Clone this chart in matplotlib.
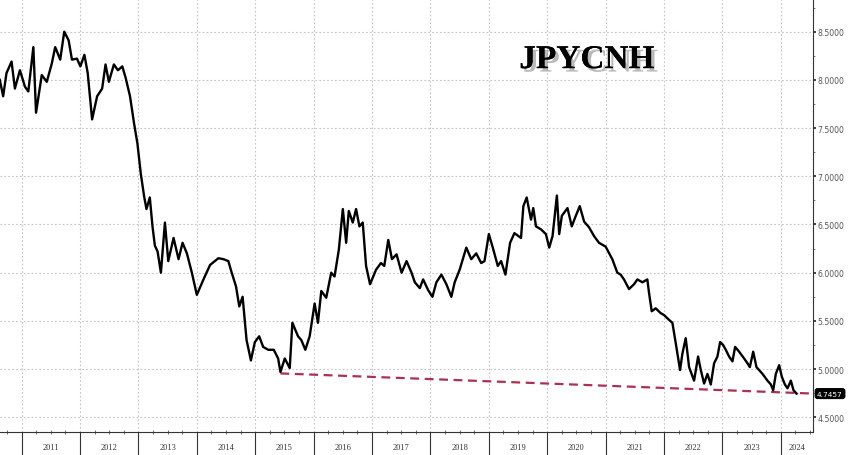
import matplotlib
matplotlib.use("Agg")
import matplotlib.pyplot as plt
import matplotlib.patheffects as pe
from matplotlib.transforms import blended_transform_factory
from matplotlib.ticker import FixedLocator, MultipleLocator, FormatStrFormatter
import numpy as np

# ---- data (decimal year, JPYCNH value) ----
dates = [
    2010.626, 2010.684, 2010.741, 2010.828, 2010.885, 2010.971, 2011.057, 2011.115,
    2011.201, 2011.247, 2011.345, 2011.431, 2011.517, 2011.575, 2011.661, 2011.730,
    2011.805, 2011.862, 2011.948, 2012.006, 2012.075, 2012.132, 2012.207, 2012.293,
    2012.379, 2012.437, 2012.494, 2012.580, 2012.649, 2012.724, 2012.782, 2012.856,
    2012.925, 2012.983, 2013.040, 2013.098, 2013.138, 2013.195, 2013.241, 2013.282,
    2013.328, 2013.385, 2013.454, 2013.511, 2013.602, 2013.687, 2013.756, 2013.830,
    2013.915, 2014.000, 2014.114, 2014.227, 2014.369, 2014.455, 2014.540, 2014.597,
    2014.670, 2014.727, 2014.784, 2014.852, 2014.926, 2014.994, 2015.068, 2015.136,
    2015.222, 2015.318, 2015.392, 2015.432, 2015.506, 2015.591, 2015.636, 2015.733,
    2015.790, 2015.858, 2015.932, 2016.017, 2016.074, 2016.131, 2016.216, 2016.301,
    2016.358, 2016.432, 2016.500, 2016.557, 2016.602, 2016.670, 2016.727, 2016.784,
    2016.841, 2016.898, 2016.966, 2017.068, 2017.153, 2017.210, 2017.278, 2017.341,
    2017.420, 2017.506, 2017.591, 2017.676, 2017.733, 2017.818, 2017.875, 2017.960,
    2018.034, 2018.102, 2018.188, 2018.273, 2018.358, 2018.415, 2018.500, 2018.614,
    2018.699, 2018.784, 2018.869, 2018.926, 2019.000, 2019.068, 2019.153, 2019.210,
    2019.284, 2019.364, 2019.438, 2019.551, 2019.591, 2019.648, 2019.722, 2019.761,
    2019.807, 2019.892, 2019.977, 2020.034, 2020.091, 2020.165, 2020.205, 2020.250,
    2020.347, 2020.420, 2020.489, 2020.557, 2020.631, 2020.716, 2020.801, 2020.886,
    2021.000, 2021.114, 2021.200, 2021.257, 2021.314, 2021.400, 2021.486, 2021.543,
    2021.629, 2021.714, 2021.743, 2021.789, 2021.857, 2021.943, 2022.000, 2022.086,
    2022.143, 2022.200, 2022.274, 2022.314, 2022.371, 2022.429, 2022.514, 2022.583,
    2022.629, 2022.686, 2022.743, 2022.800, 2022.857, 2022.914, 2022.960, 2023.011,
    2023.057, 2023.114, 2023.171, 2023.217, 2023.286, 2023.371, 2023.429, 2023.469,
    2023.526, 2023.583, 2023.686, 2023.771, 2023.829, 2023.869, 2023.914, 2023.971,
    2024.017, 2024.069, 2024.114, 2024.171, 2024.217, 2024.269,
]
values = [
    8.00, 7.83, 8.07, 8.19, 7.91, 8.10, 7.93, 7.88,
    8.34, 7.66, 8.05, 7.98, 8.17, 8.34, 8.21, 8.50,
    8.41, 8.21, 8.22, 8.14, 8.26, 8.07, 7.59, 7.83,
    7.91, 8.16, 7.98, 8.16, 8.10, 8.14, 8.02, 7.83,
    7.55, 7.34, 7.03, 6.79, 6.66, 6.78, 6.48, 6.28,
    6.22, 6.00, 6.52, 6.12, 6.36, 6.14, 6.31, 6.20,
    6.00, 5.77, 5.93, 6.08, 6.15, 6.14, 6.12, 6.00,
    5.86, 5.65, 5.75, 5.30, 5.09, 5.28, 5.34, 5.23,
    5.20, 5.20, 5.11, 4.97, 5.11, 5.01, 5.48, 5.34,
    5.30, 5.20, 5.34, 5.68, 5.48, 5.81, 5.74, 6.00,
    5.96, 6.24, 6.66, 6.31, 6.64, 6.52, 6.66, 6.48,
    6.52, 6.07, 5.88, 6.03, 6.10, 6.07, 6.34, 6.14,
    6.19, 6.00, 6.12, 6.00, 5.90, 5.84, 5.93, 5.82,
    5.75, 5.90, 5.98, 5.88, 5.75, 5.90, 6.03, 6.26,
    6.14, 6.20, 6.10, 6.12, 6.40, 6.26, 6.07, 6.12,
    5.98, 6.31, 6.41, 6.36, 6.69, 6.78, 6.55, 6.67,
    6.48, 6.45, 6.40, 6.26, 6.38, 6.80, 6.40, 6.59,
    6.67, 6.48, 6.59, 6.69, 6.53, 6.47, 6.38, 6.31,
    6.27, 6.14, 6.00, 5.98, 5.93, 5.83, 5.88, 5.93,
    5.90, 5.93, 5.79, 5.60, 5.63, 5.58, 5.56, 5.51,
    5.48, 5.27, 4.99, 5.16, 5.32, 5.02, 4.88, 5.13,
    4.99, 4.85, 4.95, 4.84, 5.06, 5.13, 5.28, 5.25,
    5.20, 5.13, 5.08, 5.23, 5.18, 5.11, 5.06, 5.02,
    5.18, 5.02, 4.95, 4.88, 4.84, 4.78, 4.95, 5.04,
    4.92, 4.84, 4.80, 4.88, 4.78, 4.7457,
]
trend_x = [2015.43, 2024.55]
trend_y = [4.955, 4.7457]
last_label = "4.7457"
years = list(range(2011, 2025))
year_labels = [str(y) for y in years]
title = "JPYCNH"

# ---- figure ----
fig = plt.figure(figsize=(8.48, 4.56), dpi=100)
ax = fig.add_axes([0.0, 0.0504, 0.9587, 0.9496])
x_min, x_max = 2010.63, 2024.55
ax.set_xlim(x_min, x_max)
ax.set_ylim(4.347, 8.839)

ax.plot(dates, values, color="black", lw=1.7, solid_joinstyle="round", zorder=3)
ax.plot(trend_x, trend_y, color="#a8324f", lw=1.6, ls=(0, (4, 2.5)), zorder=2)

# spines
for s in ("left", "top"):
    ax.spines[s].set_visible(False)
ax.spines["right"].set_color("#333333")
ax.spines["bottom"].set_color("#333333")
ax.spines["right"].set_linewidth(0.8)
ax.spines["bottom"].set_linewidth(0.8)

# y axis on right
ax.yaxis.tick_right()
ax.yaxis.set_major_locator(MultipleLocator(0.5))
ax.yaxis.set_minor_locator(MultipleLocator(0.25))
ax.yaxis.set_major_formatter(FormatStrFormatter("%.4f"))
ax.tick_params(axis="y", which="major", direction="out", length=2.5, width=1.2,
               labelsize=5.6, pad=0.8, colors="#222222")
ax.tick_params(axis="y", which="minor", direction="out", length=1.5, width=0.6,
               colors="#666666")
for lbl in ax.get_yticklabels():
    lbl.set_color("#555555")

# x axis: year boundaries as long ticks, quarter minor ticks
ax.xaxis.set_major_locator(FixedLocator(years))
quarters = [y + q for y in range(2010, 2025) for q in (0.25, 0.5, 0.75)]
ax.xaxis.set_minor_locator(FixedLocator([q for q in quarters if x_min < q < x_max]))
ax.tick_params(axis="x", which="major", direction="out", length=17, width=0.8,
               colors="#333333", labelbottom=False)
ax.tick_params(axis="x", which="minor", direction="inout", length=3, width=0.6,
               colors="#555555")

trans = blended_transform_factory(ax.transData, ax.transAxes)
centers = [y + 0.5 for y in years[:-1]] + [(years[-1] + x_max) / 2]
for c, lab in zip(centers, year_labels):
    ax.text(c, -0.035, lab, transform=trans, ha="center", va="center",
            fontsize=6, color="#333333", family="Liberation Serif")

# grid
ax.grid(True, which="major", color="#c4c4c4", lw=0.8, ls=(0, (1.5, 2)))
ax.set_axisbelow(True)

# title with shadow
ax.text(0.722, 0.86, title, transform=ax.transAxes, ha="center", va="center",
        fontsize=24, fontweight="bold", family="Liberation Serif", color="black",
        path_effects=[pe.withSimplePatchShadow(offset=(2.5, -2.5),
                                                shadow_rgbFace="#777777", alpha=0.5),
                      pe.Normal()])

# last value label
ax.annotate(last_label, xy=(1.0, trend_y[-1]), xycoords=("axes fraction", "data"),
            xytext=(3, 0), textcoords="offset points", ha="left", va="center",
            fontsize=5.3, color="white",
            bbox=dict(boxstyle="round,pad=0.25,rounding_size=0.3", fc="black", ec="black"),
            annotation_clip=False)

fig.savefig("out.png", dpi=100)
